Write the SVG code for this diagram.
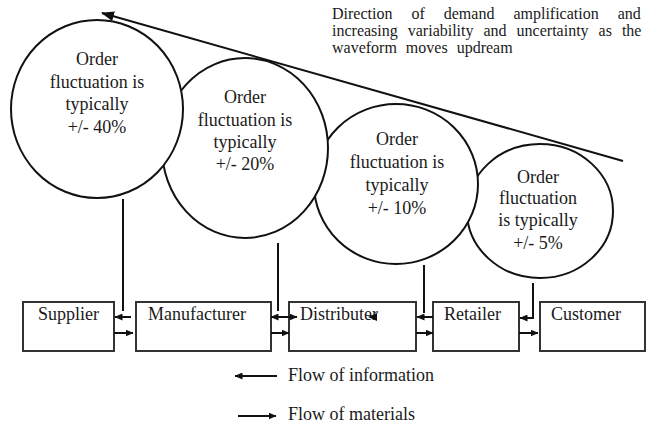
<svg xmlns="http://www.w3.org/2000/svg" width="652" height="424" viewBox="0 0 652 424">
<style>
text{font-family:"Liberation Serif","DejaVu Serif",serif;fill:#1a1a1a}
.c{font-size:18px;text-anchor:middle}
.b{font-size:18px}
.t{font-size:16px}
.bubble{fill:#fff;stroke:#111;stroke-width:2}
.box{fill:#fff;stroke:#333;stroke-width:2}
.ln{stroke:#111;stroke-width:2;fill:none}
</style>
<defs>
<marker id="big" markerUnits="userSpaceOnUse" markerWidth="13" markerHeight="10" refX="12" refY="5" orient="auto-start-reverse"><path d="M0,0 L13,5 L0,10 z" fill="#111"/></marker>
<marker id="sm" markerUnits="userSpaceOnUse" markerWidth="8" markerHeight="7" refX="7.5" refY="3.5" orient="auto-start-reverse"><path d="M0,0 L8,3.5 L0,7 z" fill="#111"/></marker>
</defs>

<g id="bubble-retailer">
<ellipse class="bubble" cx="540" cy="211" rx="73" ry="67"/>
<text class="c" x="538" y="183">Order</text>
<text class="c" x="538" y="204">fluctuation</text>
<text class="c" x="538" y="226">is typically</text>
<text class="c" x="538" y="249">+/- 5%</text>
</g>
<g id="bubble-distributer">
<ellipse class="bubble" cx="396" cy="184" rx="82" ry="80"/>
<text class="c" x="397" y="145">Order</text>
<text class="c" x="397" y="168">fluctuation is</text>
<text class="c" x="397" y="191">typically</text>
<text class="c" x="397" y="214">+/- 10%</text>
</g>
<g id="bubble-manufacturer">
<ellipse class="bubble" cx="245" cy="148" rx="83" ry="90"/>
<text class="c" x="245" y="103">Order</text>
<text class="c" x="245" y="126">fluctuation is</text>
<text class="c" x="245" y="148">typically</text>
<text class="c" x="245" y="170">+/- 20%</text>
</g>
<g id="bubble-supplier">
<ellipse class="bubble" cx="97" cy="109" rx="86" ry="89"/>
<text class="c" x="97" y="65">Order</text>
<text class="c" x="97" y="88">fluctuation is</text>
<text class="c" x="97" y="110">typically</text>
<text class="c" x="97" y="133">+/- 40%</text>
</g>

<g id="caption">
<text class="t" x="332" y="19" word-spacing="15">Direction of demand amplification and</text>
<text class="t" x="332" y="36" word-spacing="6">increasing variability and uncertainty as the</text>
<text class="t" x="332" y="53" word-spacing="5">waveform moves updream</text>
</g>

<g id="supplier"><rect class="box" x="23" y="302" width="91" height="49"/><text class="b" x="38" y="320">Supplier</text></g>
<g id="manufacturer"><rect class="box" x="136" y="302" width="135" height="49"/><text class="b" x="148" y="320">Manufacturer</text></g>
<g id="distributer"><rect class="box" x="289" y="302" width="127" height="49"/><text class="b" x="300" y="320">Distributer</text></g>
<g id="retailer"><rect class="box" x="433" y="302" width="86" height="49"/><text class="b" x="444" y="320">Retailer</text></g>
<g id="customer"><rect class="box" x="540" y="302" width="105" height="49"/><text class="b" x="551" y="320">Customer</text></g>

<g id="connectors">
<line class="ln" x1="623" y1="161" x2="102" y2="13" marker-end="url(#big)"/>
<line class="ln" x1="123" y1="199" x2="123" y2="311"/>
<line class="ln" x1="131" y1="317" x2="115" y2="317" marker-end="url(#sm)"/>
<line class="ln" x1="278" y1="243" x2="278" y2="311"/>
<line class="ln" x1="271" y1="317" x2="297" y2="317" marker-start="url(#sm)" marker-end="url(#sm)"/>
<line class="ln" x1="424" y1="265" x2="424" y2="313"/>
<line class="ln" x1="433" y1="317" x2="417" y2="317" marker-end="url(#sm)"/>
<polyline class="ln" points="533,283 533,318 520,318" marker-end="url(#sm)"/>
<path d="M368,317 L377,313 L377,321 z" fill="#111"/>
<line class="ln" x1="114" y1="333" x2="133" y2="333" marker-end="url(#sm)"/>
<line class="ln" x1="271" y1="333" x2="289" y2="333" marker-end="url(#sm)"/>
<line class="ln" x1="416" y1="333" x2="433" y2="333" marker-end="url(#sm)"/>
<line class="ln" x1="519" y1="333" x2="538" y2="333" marker-end="url(#sm)"/>
</g>

<g id="legend">
<line class="ln" x1="277" y1="376" x2="235" y2="376" marker-end="url(#sm)"/>
<text class="b" x="288" y="381">Flow of information</text>
<line class="ln" x1="238" y1="416" x2="276" y2="416" marker-end="url(#sm)"/>
<text class="b" x="288" y="420">Flow of materials</text>
</g>
</svg>
